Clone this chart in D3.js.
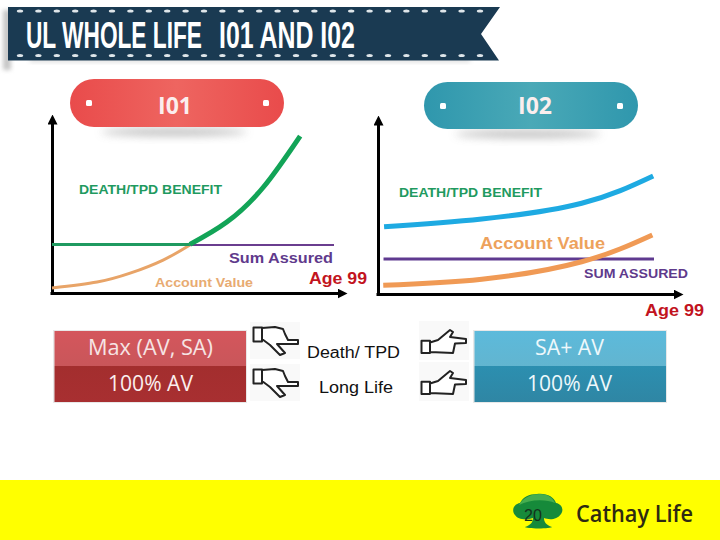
<!DOCTYPE html>
<html><head><meta charset="utf-8">
<script src="https://cdn.jsdelivr.net/npm/d3@7"></script>
<style>html,body{margin:0;padding:0;background:#fff}svg{display:block}text{font-family:"Liberation Sans",Arial,sans-serif}</style>
</head><body><svg id="c" width="720" height="540"></svg>
<script>
// Series values (x = share of policy span up to age 99, y = relative value)
const i01DeathFlatX=[0,48.9], i01DeathFlatY=[27,27];
const i01DeathCurveX=[48.9,62,75,88], i01DeathCurveY=[27,39.4,58.9,87.2];
const i01SumX=[48.9,100], i01SumY=[26.7,26.7];
const i01AvX=[0,16,27.7,39.4,48.9], i01AvY=[2.8,6.1,11,18.3,26.7];
const i02DeathX=[2.2,37.6,73.8,99.7], i02DeathY=[37.4,41.7,50.4,65.6];
const i02AvX=[1.9,37.6,73.8,99.4], i02AvY=[4.8,8.2,17.9,32.8];
const i02SumX=[2,100], i02SumY=[19.4,19.4];
// Labels
const titleParts=["UL WHOLE LIFE","I01 AND I02"];
const planNames=["I01","I02"];
const leftCells=["Max (AV, SA)","100% AV"], rightCells=["SA+ AV","100% AV"], middleRows=["Death/ TPD","Long Life"];

const svg=d3.select("#c"), defs=svg.append("defs");
function grad(id,stops,h){const g=defs.append("linearGradient").attr("id",id);
 if(!h)g.attr("x1",0).attr("x2",0).attr("y1",0).attr("y2",1);
 stops.forEach((c,i)=>g.append("stop").attr("offset",i/(stops.length-1)).attr("stop-color",c));}
grad("gRed",["#e94b4b","#ee6560","#e94b4b"],true);
grad("gTeal",["#2f97ad","#4aa9b7","#2f97ad"],true);
grad("gR1",["#d4565c","#c9565a"]);grad("gR2",["#a32e2e","#a82f31"]);
grad("gB1",["#5cbadb","#62b5d0"]);grad("gB2",["#2c8fb0","#2f86a4"]);
const blur=(id,s)=>defs.append("filter").attr("id",id).attr("x","-50%").attr("y","-100%").attr("width","200%").attr("height","300%").append("feGaussianBlur").attr("stdDeviation",s);
blur("b4",4);blur("b2",2);
defs.append("marker").attr("id","arrow").attr("viewBox","0 0 10 10").attr("refX",2).attr("refY",5).attr("markerWidth",10).attr("markerHeight",10).attr("markerUnits","userSpaceOnUse").attr("orient","auto-start-reverse").append("path").attr("d","M0,0L10,5L0,10Z").attr("fill","#000");

// Banner
svg.append("rect").attr("x",3).attr("y",10).attr("width",8).attr("height",60).attr("fill","#999").attr("opacity",.55).attr("filter","url(#b2)");
svg.append("rect").attr("x",30).attr("y",59).attr("width",440).attr("height",3).attr("fill","#999").attr("opacity",.4).attr("filter","url(#b2)");
svg.append("path").attr("d","M8,7H500L481,34L499,60.5H8Z").attr("fill","#1a3a52");
[11,55.5].forEach(y=>{d3.range(20,485,18.4).forEach(x=>{ if(x<482) svg.append("ellipse").attr("cx",x).attr("cy",y).attr("rx",3.2).attr("ry",1.6).attr("fill","#dfe6ea");});});
[[26,176],[219,136]].forEach((p,i)=>{
 const t=svg.append("text").text(titleParts[i]).attr("font-size",37).attr("fill","#fff").style("font-family","'Liberation Sans Narrow','Liberation Sans'").attr("font-weight",700);
 const natural=t.node().getComputedTextLength();
 t.attr("transform",`translate(${p[0]},48) scale(${p[1]/natural},1)`);
});

// Pills
function pill(x,y,w,h,fill,label,tx,ty){
 svg.append("ellipse").attr("cx",x+w/2-3).attr("cy",y+h+5).attr("rx",w*.34).attr("ry",4).attr("fill","#aaa").attr("opacity",.75).attr("filter","url(#b4)");
 svg.append("rect").attr("x",x).attr("y",y).attr("width",w).attr("height",h).attr("rx",h/2).attr("fill",fill);
 [x+19,x+196].forEach(cx=>svg.append("rect").attr("x",cx-3).attr("y",y+21).attr("width",6).attr("height",6).attr("rx",1.5).attr("fill","#fff"));
 svg.append("text").text(label).attr("x",tx).attr("y",ty).attr("text-anchor","middle").attr("font-size",23).attr("font-weight",700).attr("fill","#fbeeee").style("font-family","'Open Sans'");
}
pill(70,79,214,48,"url(#gRed)",planNames[0],175,114);
pill(424,82,214,47,"url(#gTeal)",planNames[1],535,114);

// Charts
const line=(xs,ys,x,y)=>d3.line().x((_,i)=>x(xs[i])).y((_,i)=>y(ys[i])).curve(d3.curveNatural)(xs);
function chart(x0,xEnd,x100,yBase){
 const x=d3.scaleLinear().domain([0,100]).range([x0,x100]);
 const y=d3.scaleLinear().domain([0,100]).range([yBase,yBase-180]);
 const gx=svg.append("g").attr("transform",`translate(0,${yBase})`);
 gx.call(d3.axisBottom(d3.scaleLinear().domain([0,1]).range([x0-2,xEnd-8])).tickValues([]).tickSizeOuter(0));
 const gy=svg.append("g").attr("transform",`translate(${x0},0)`);
 gy.call(d3.axisLeft(d3.scaleLinear().domain([0,1]).range([yBase+1,yBase-171])).tickValues([]).tickSizeOuter(0));
 gx.select("path").attr("stroke","#000").attr("stroke-width",3).attr("marker-end","url(#arrow)");
 gy.select("path").attr("stroke","#000").attr("stroke-width",3).attr("marker-end","url(#arrow)");
 return {x,y};
}
function plot(c,xs,ys,color,w){svg.append("path").attr("d",line(xs,ys,c.x,c.y)).attr("fill","none").attr("stroke",color).attr("stroke-width",w);}
const c1=chart(52,347,334,293);
plot(c1,i01SumX,i01SumY,"#6a3d8f",2);
plot(c1,i01AvX,i01AvY,"#e8a468",3);
plot(c1,i01DeathFlatX,i01DeathFlatY,"#1f9a60",3);
plot(c1,i01DeathCurveX,i01DeathCurveY,"#12a457",5);
const c2=chart(378,683,654,294);
plot(c2,i02SumX,i02SumY,"#5f3a90",3);
plot(c2,i02DeathX,i02DeathY,"#1eaae2",5);
plot(c2,i02AvX,i02AvY,"#f09a55",5);

function label(t,x,y,size,color,len,weight){svg.append("text").text(t).attr("x",x).attr("y",y).attr("font-size",size).attr("font-weight",weight||700).attr("fill",color).attr("textLength",len).attr("lengthAdjust","spacingAndGlyphs");}
label("DEATH/TPD BENEFIT",79,194,12.5,"#1f9a60",143);
label("DEATH/TPD BENEFIT",399,197,12.5,"#1f9a60",143);
label("Sum Assured",229,263,15,"#5f3a8c",104);
label("Account Value",155,287,13,"#e8ab72",98);
label("Age 99",309,284,16,"#c2141e",58);
label("Account Value",480,249,17,"#eda25c",125);
label("SUM ASSURED",584,278,13,"#5f3a8c",104);
label("Age 99",645,316,16,"#c2141e",59);

// Benefit table
function cell(x,y,w,h,fill,t,tx,len,cy,col){
 svg.append("rect").attr("x",x).attr("y",y).attr("width",w).attr("height",h).attr("fill",fill);
 svg.append("text").text(t).attr("x",tx).attr("y",cy).attr("font-size",21).attr("fill",col).style("font-family","'Open Sans'").attr("textLength",len).attr("lengthAdjust","spacingAndGlyphs");
}
svg.append("rect").attr("x",53).attr("y",330).attr("width",194).attr("height",73).attr("fill","#e8e8e8");
svg.append("rect").attr("x",473).attr("y",330).attr("width",194).attr("height",73).attr("fill","#e8e8e8");
cell(54.5,331,191.5,35,"url(#gR1)",leftCells[0],88,125,355,"#f6e4e4");
cell(54.5,366,191.5,36,"url(#gR2)",leftCells[1],108,85,391,"#fbeeee");
cell(474.5,331,191.5,35,"url(#gB1)",rightCells[0],535,69,355,"#eef8fb");
cell(474.5,366,191.5,36,"url(#gB2)",rightCells[1],527,85,391,"#eef8fb");
svg.append("text").text(middleRows[0]).attr("x",307).attr("y",358).attr("font-size",16).attr("fill","#111").attr("textLength",93).attr("lengthAdjust","spacingAndGlyphs");
svg.append("text").text(middleRows[1]).attr("x",319).attr("y",393).attr("font-size",16).attr("fill","#111").attr("textLength",74).attr("lengthAdjust","spacingAndGlyphs");

// Hands
const leftHand="M3.5,9.5H12V23.5H3.5Z M12,10L25,9L33,11L35,16L38,22H48V26H27L35,35L30,37L20,27L12,21";
const rightHand="M3.5,20.7H12V33H3.5Z M12,22.5L20,20L32,10L35,12L32,17L48,19V23L37,23.5L35,33L12,32";
[[250,318],[250,360]].forEach(p=>{const g=svg.append("g").attr("transform",`translate(${p[0]},${p[1]})`);
 g.append("rect").attr("x",0).attr("y",4).attr("width",50).attr("height",37).attr("fill","#f9f9f9");
 g.append("path").attr("d",leftHand).attr("fill","#fff").attr("stroke","#222").attr("stroke-width",2).attr("stroke-linejoin","round");});
[[418,320],[418,361]].forEach(p=>{const g=svg.append("g").attr("transform",`translate(${p[0]},${p[1]})`);
 g.append("rect").attr("x",1).attr("y",1).attr("width",50).attr("height",39).attr("fill","#f9f9f9");
 g.append("path").attr("d",rightHand).attr("fill","#fff").attr("stroke","#222").attr("stroke-width",2).attr("stroke-linejoin","round");});

// Footer
svg.append("rect").attr("x",0).attr("y",480).attr("width",720).attr("height",60).attr("fill","#ffff00");
svg.append("path").attr("d","M537,494C547,493 554,497 556,503C562,504 564,510 561,514C557,520 549,520 544,518C544,522 546,525 552,527C553,529 524,529 525,527C531,525 533,522 533,518C527,520 518,520 515,515C511,510 514,504 520,503C523,497 529,494 537,494Z").attr("fill","#168a3a");
svg.append("path").attr("d","M519,505C523,497 533,494 540,494C548,494 553,498 555,503C546,499 530,499 519,505Z").attr("fill","#45ad4f");
svg.append("text").text("20").attr("x",533).attr("y",521).attr("text-anchor","middle").attr("font-size",16).attr("fill","#14301c");
svg.append("text").text("Cathay Life").attr("x",576).attr("y",522).attr("font-size",24).attr("font-weight",600).attr("fill","#2e2a12").style("font-family","'Open Sans'").attr("textLength",117).attr("lengthAdjust","spacingAndGlyphs");
</script></body></html>
